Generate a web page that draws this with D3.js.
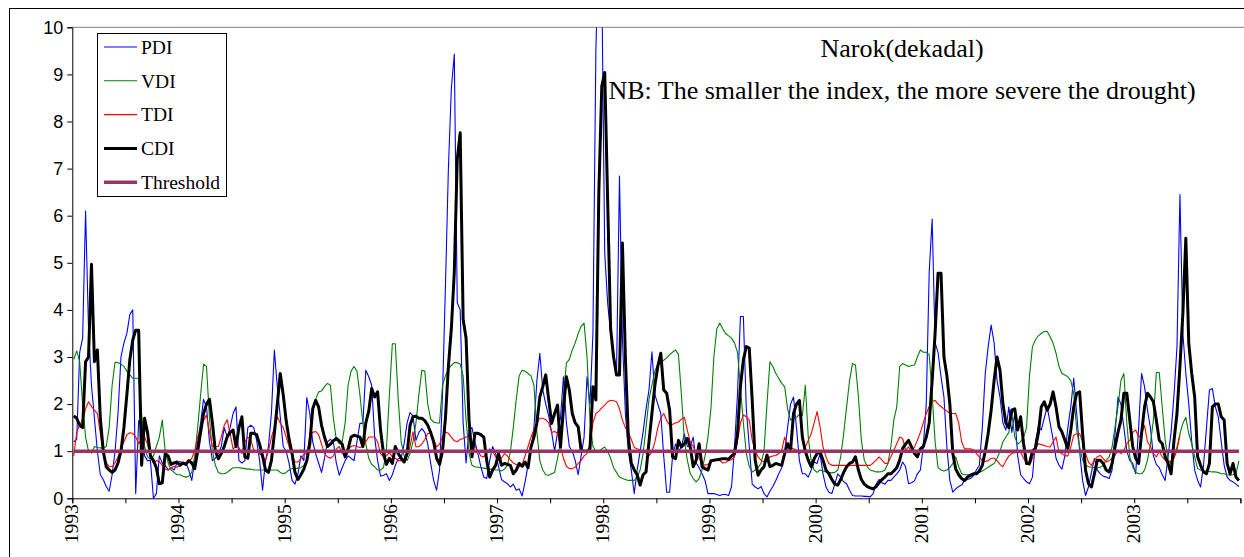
<!DOCTYPE html>
<html><head><meta charset="utf-8">
<script src="https://cdn.jsdelivr.net/npm/d3@7"></script>
<style>body{margin:0;background:#fff;overflow:hidden}svg{display:block}</style>
</head><body>
<svg id="chart" width="1244" height="557"></svg>
<script>
// ---- data (dekadal values, 36 per year, 1993-2003) ----
const years = [1993,1994,1995,1996,1997,1998,1999,2000,2001,2002,2003];
const yTicks = [0,1,2,3,4,5,6,7,8,9,10];
const titleLines = ["Narok(dekadal)", "NB: The smaller the index, the more severe the drought)"];
const seriesNames = ["PDI","VDI","TDI","CDI","Threshold"];
const thresholdValue = 1;

const pdi = [
 1.2,1.25,3.1,3.4,6.1,3.6,2.4,1.7,1.0,0.5,0.4,0.25,0.15,0.5,1.0,1.8,3.0,3.3,3.5,3.9,4.0,0.1,1.65,1.5,0.9,0.8,0.8,0.0,0.1,0.9,0.75,0.7,0.6,0.65,0.6,0.75,
 0.78,0.75,0.75,0.6,0.38,0.8,1.2,1.6,2.1,1.94,1.2,0.8,0.85,0.95,1.1,1.5,1.3,1.5,1.8,1.94,0.8,0.75,0.8,1.5,1.55,1.5,1.23,0.8,0.17,0.8,1.1,1.8,3.15,2.37,1.73,1.1,
 1.0,0.74,0.38,0.3,0.52,0.9,0.8,2.14,1.8,1.2,0.95,0.75,0.55,0.85,1.2,1.25,1.2,0.75,0.49,0.65,0.8,0.9,0.85,0.8,1.2,1.59,1.59,2.72,2.58,2.4,1.3,0.8,0.47,0.49,0.52,0.38,
 0.5,0.7,0.84,0.86,1.16,1.6,1.82,1.75,1.23,1.4,1.48,1.4,1.15,0.74,0.38,0.17,0.6,2.2,4.5,7.0,8.7,9.43,4.15,4.0,1.6,0.75,1.45,1.5,1.2,0.95,0.67,0.45,0.42,0.8,1.1,0.95,
 0.67,0.4,0.35,0.31,0.24,0.3,0.17,0.2,0.05,0.35,0.7,1.0,1.5,2.5,3.08,2.3,2.0,1.75,1.4,1.0,1.4,1.7,2.58,1.6,1.1,1.0,0.8,0.5,0.9,1.3,2.58,2.0,3.5,9.5,12,11,
 5.2,4.14,3.5,3.08,2.65,6.84,3.4,1.8,1.0,0.6,0.1,0.6,1.0,1.4,1.9,2.3,3.11,2.2,2.0,1.8,0.9,0.13,0.13,0.9,1.15,1.0,1.09,1.37,1.1,1.09,1.3,0.75,0.65,0.52,0.38,0.1,
 0.1,0.1,0.08,0.06,0.08,0.08,0.06,0.25,1.09,2.2,3.86,3.86,1.9,1.1,0.3,0.24,0.2,0.25,0.1,0.03,0.15,0.25,0.38,0.52,0.65,1.0,1.5,2.0,2.15,1.5,0.8,0.52,0.52,0.45,0.6,0.77,
 0.74,0.95,0.52,0.24,0.13,0.1,0.3,0.52,0.45,0.35,0.31,0.17,0.06,0.05,0.05,0.05,0.04,0.04,0.03,0.1,0.3,0.4,0.33,0.3,0.38,0.38,0.45,0.52,0.6,0.77,0.67,0.31,0.33,0.37,0.52,0.6,
 1.1,2.0,4.8,5.93,3.3,3.1,2.58,2.15,1.09,0.38,0.13,0.2,0.25,0.28,0.38,0.4,0.42,0.48,0.6,0.7,1.5,2.65,3.22,3.68,3.3,2.5,2.15,1.6,1.45,1.94,1.4,1.8,0.9,0.5,0.42,0.35,
 0.31,0.45,1.2,1.52,1.45,1.7,1.94,1.6,1.25,0.85,0.7,0.62,0.9,1.5,1.94,2.55,1.8,1.0,0.38,0.06,0.24,0.55,0.85,0.6,0.52,0.47,0.45,0.42,0.6,1.37,2.15,2.0,1.5,1.0,0.8,0.74,
 0.52,1.5,2.65,2.37,1.87,1.5,0.9,0.72,0.65,0.5,0.38,0.9,1.4,2.2,3.22,6.45,3.5,2.65,2.0,1.2,0.6,0.38,0.24,0.7,1.5,2.3,2.33,1.94,1.73,1.2,0.7,0.45,0.38,0.35,0.3,0.25
];

const vdi = [
 2.95,3.13,2.9,2.0,1.3,1.0,0.96,1.1,1.08,1.07,1.07,1.1,1.5,2.4,2.89,2.88,2.85,2.8,2.7,2.62,2.55,2.55,2.55,1.8,1.1,0.88,0.83,0.9,1.1,1.3,1.66,1.0,0.75,0.6,0.55,0.5,
 0.5,0.47,0.45,0.47,0.55,0.9,1.5,2.2,2.85,2.8,1.7,1.0,0.7,0.55,0.52,0.52,0.55,0.6,0.65,0.65,0.65,0.64,0.63,0.62,0.62,0.6,0.6,0.6,0.6,0.6,0.6,0.6,0.6,0.6,0.55,0.52,
 0.55,0.6,0.63,0.63,0.64,0.65,0.7,0.8,1.3,1.9,2.1,2.26,2.28,2.37,2.44,2.4,1.7,1.25,1.16,1.2,1.6,2.4,2.7,2.8,2.7,2.2,1.6,1.15,0.85,0.72,0.67,0.6,0.6,0.65,1.05,2.2,
 3.28,3.28,2.1,1.2,0.9,0.8,0.95,1.2,1.6,2.2,2.72,2.7,2.0,1.68,1.62,1.6,1.6,2.4,2.6,2.75,2.82,2.88,2.88,2.85,2.6,1.66,0.95,0.7,0.67,0.66,0.65,0.64,0.63,0.62,0.62,0.6,
 0.6,0.58,0.62,0.7,0.98,1.5,2.1,2.6,2.72,2.7,2.65,2.6,2.4,1.4,0.8,0.6,0.5,0.49,0.52,0.55,0.85,1.2,2.2,2.87,2.95,3.15,3.3,3.5,3.65,3.72,3.0,1.66,1.1,1.0,1.0,1.05,
 1.09,1.0,0.85,0.65,0.55,0.45,0.42,0.4,0.38,0.38,0.38,0.45,0.6,0.95,1.5,2.1,2.4,2.7,2.85,2.9,2.93,2.98,3.05,3.1,3.15,3.05,2.2,1.23,0.81,0.52,0.42,0.35,0.42,0.6,0.9,1.3,
 1.9,3.0,3.6,3.72,3.6,3.5,3.45,3.4,3.3,3.1,2.37,1.6,0.95,0.67,0.56,0.6,0.65,0.75,1.0,2.0,2.9,2.8,2.65,2.55,2.44,2.37,1.9,1.66,1.7,1.72,1.78,1.75,2.4,1.3,0.8,0.6,
 0.55,0.6,0.58,0.56,0.55,0.54,0.55,0.6,0.88,1.37,1.94,2.5,2.86,2.83,2.16,1.23,0.81,0.67,0.6,0.58,0.56,0.56,0.57,0.6,0.74,1.09,1.66,1.94,2.8,2.86,2.83,2.8,2.82,2.83,3.0,3.15,
 3.1,3.1,3.05,2.2,1.2,0.65,0.6,0.58,0.6,0.65,0.74,0.88,0.67,0.52,0.5,0.5,0.5,0.52,0.53,0.55,0.58,0.62,0.66,0.7,0.74,0.85,1.0,1.2,1.3,1.4,1.8,1.3,1.15,1.2,1.3,1.5,
 2.6,3.22,3.36,3.45,3.5,3.54,3.54,3.43,3.29,3.08,2.8,2.65,2.62,2.58,2.5,2.23,1.45,1.09,0.81,0.7,0.67,0.66,0.65,0.65,0.66,0.7,0.81,0.88,1.09,1.52,1.94,2.5,2.65,1.6,0.88,0.67,
 0.55,0.52,0.52,0.6,0.81,1.16,1.66,2.67,2.67,1.94,1.23,0.81,0.74,0.9,1.09,1.37,1.59,1.72,1.37,1.16,0.88,0.63,0.6,0.58,0.58,0.57,0.56,0.56,0.55,0.52,0.52,0.5,0.49,0.5,0.52,0.8
];

const tdi = [
 0.9,1.4,1.55,1.66,1.9,2.05,1.95,1.87,1.8,1.38,0.95,0.75,0.68,0.67,0.75,0.88,1.05,1.2,1.35,1.39,1.38,1.3,1.16,1.25,1.3,1.15,0.9,0.75,0.8,0.78,0.7,0.62,0.6,0.65,0.68,0.66,
 0.7,0.72,0.75,0.78,0.85,1.0,1.3,1.5,1.65,1.77,1.4,1.1,1.1,1.1,1.3,1.55,1.67,1.38,1.05,1.1,1.08,0.95,1.2,1.3,1.25,1.02,1.0,0.95,0.88,0.8,1.0,1.3,1.5,1.73,1.6,1.5,
 1.3,1.1,0.9,0.77,0.77,0.85,0.93,0.95,1.3,1.4,1.42,1.35,1.15,0.95,0.88,0.85,0.9,1.05,1.1,0.95,0.9,1.05,1.1,1.12,1.1,1.08,1.1,1.2,1.3,1.3,1.3,1.2,0.95,0.88,0.9,0.97,
 0.88,0.85,0.8,0.8,0.82,0.9,1.1,1.41,1.09,1.1,1.15,1.25,1.38,1.38,1.25,1.09,1.15,1.3,1.41,1.38,1.3,1.22,1.2,1.25,1.27,1.3,1.3,1.2,1.1,1.0,0.9,0.88,0.95,1.05,1.0,0.88,
 0.8,0.85,0.95,0.9,0.82,0.75,0.72,0.67,0.72,0.9,1.1,1.3,1.45,1.6,1.7,1.7,1.67,1.6,1.4,1.42,1.38,1.1,0.85,0.68,0.63,0.63,0.66,0.74,0.8,0.9,0.95,1.15,1.6,1.8,1.85,1.92,
 1.98,2.05,2.08,2.07,2.05,1.9,1.66,1.5,1.4,1.25,1.08,1.05,1.03,1.0,0.96,0.9,0.98,1.2,1.5,1.7,1.8,1.65,1.55,1.57,1.6,1.62,1.68,1.72,1.45,1.2,1.1,0.95,0.85,0.75,0.7,0.72,
 0.78,0.8,0.82,0.8,0.75,0.76,0.8,0.82,0.88,1.2,1.6,1.77,1.73,1.66,1.23,1.02,0.88,0.81,0.77,0.8,0.88,0.9,0.91,0.95,1.02,1.3,1.12,1.08,1.05,1.02,0.95,0.99,1.09,1.23,1.37,1.6,
 1.84,1.52,1.09,0.88,0.74,0.7,0.7,0.7,0.7,0.7,0.7,0.7,0.7,0.7,0.7,0.7,0.7,0.7,0.7,0.75,0.81,0.88,0.81,0.74,0.74,0.88,1.02,1.16,1.3,1.27,1.02,1.09,0.99,1.09,1.23,1.4,
 1.6,1.8,1.95,2.05,2.08,2.0,1.95,1.9,1.85,1.8,1.8,1.8,1.6,1.2,1.05,1.05,1.05,1.03,0.95,0.88,0.8,0.78,0.8,0.85,0.85,0.8,0.72,0.67,0.8,0.9,0.95,0.97,0.97,0.98,0.85,0.75,
 0.7,0.85,1.05,1.16,1.14,1.12,1.1,1.09,1.2,1.3,0.98,0.95,0.9,0.9,1.09,1.34,1.37,1.37,1.2,0.95,0.77,0.7,0.81,0.88,0.91,0.84,0.77,0.8,0.85,0.91,1.02,0.95,1.02,1.16,1.23,1.4,
 1.45,1.3,1.37,1.55,1.2,1.1,0.95,0.88,0.99,0.88,0.81,0.77,0.79,0.85,1.02,1.34
];

const cdi = [
 1.75,1.7,1.55,1.5,2.9,3.0,4.97,2.9,3.15,1.7,1.0,0.67,0.6,0.55,0.6,0.75,1.0,1.5,2.2,2.94,3.36,3.57,3.57,0.7,1.7,1.4,0.9,0.8,0.65,0.31,0.33,0.95,0.9,0.72,0.75,0.77,
 0.7,0.75,0.72,0.8,0.75,0.63,1.0,1.4,1.8,2.0,2.1,1.6,1.0,0.84,0.95,1.1,1.3,1.4,1.45,1.1,1.5,1.73,0.88,0.85,1.38,1.38,1.35,1.15,0.9,0.6,0.55,0.8,1.38,2.0,2.65,2.2,
 1.65,1.25,0.95,0.55,0.4,0.5,0.62,0.8,1.15,1.9,2.08,1.94,1.55,1.3,1.1,1.15,1.22,1.27,1.22,1.15,0.88,1.05,1.3,1.34,1.32,1.3,1.1,1.6,1.85,2.33,2.15,2.26,1.45,0.95,0.72,0.85,
 0.74,1.1,0.95,0.85,0.77,0.95,1.55,1.73,1.74,1.7,1.7,1.65,1.55,1.4,1.2,0.85,0.72,1.0,1.7,2.8,3.6,4.8,7.2,7.76,3.8,3.4,1.66,0.88,1.38,1.38,1.35,1.3,0.8,0.45,0.6,0.7,
 0.95,0.7,0.74,0.72,0.7,0.52,0.6,0.74,0.68,0.77,0.65,1.09,1.3,1.6,2.16,2.37,2.62,2.1,1.59,1.8,1.98,1.09,1.9,2.58,2.3,1.8,1.6,1.52,1.02,1.0,1.0,1.05,2.37,2.09,6.5,8.75,
 9.04,6.3,3.6,3.0,2.62,2.62,5.42,3.0,1.3,0.75,0.6,0.5,0.28,0.5,0.56,1.2,1.8,2.4,2.8,3.08,2.3,2.23,1.87,0.88,0.84,1.23,1.09,1.16,1.27,1.09,0.67,0.81,1.16,0.67,0.63,0.6,
 0.8,0.81,0.82,0.83,0.84,0.84,0.83,0.9,0.95,1.37,2.37,2.94,3.22,3.19,2.08,0.81,0.49,0.6,0.67,0.92,0.67,0.7,0.74,0.72,0.7,0.95,1.16,1.02,1.8,2.0,2.08,1.3,1.0,0.81,0.67,0.84,
 0.95,0.99,0.81,0.6,0.52,0.4,0.3,0.28,0.4,0.55,0.67,0.74,0.77,0.88,0.6,0.4,0.3,0.25,0.22,0.2,0.25,0.33,0.4,0.45,0.52,0.52,0.58,0.65,0.81,1.06,1.15,1.23,1.09,0.95,0.88,1.05,
 1.1,1.3,1.6,2.5,3.5,4.78,4.78,3.0,2.6,2.0,0.95,0.62,0.5,0.42,0.38,0.45,0.49,0.52,0.52,0.58,0.7,1.0,1.38,1.87,2.5,3.0,2.72,2.0,1.6,1.5,1.87,1.9,1.45,1.73,1.16,0.74,
 0.74,1.0,1.06,1.38,1.94,2.05,1.87,2.0,2.26,1.94,1.52,1.41,1.23,1.06,1.45,1.94,2.23,2.26,1.38,0.6,0.31,0.24,0.52,0.81,0.81,0.74,0.6,0.56,0.74,1.09,1.4,1.66,2.23,2.23,1.66,1.1,
 0.85,0.74,1.38,1.94,2.23,2.15,2.05,1.66,1.23,1.16,0.88,0.74,0.52,1.23,1.8,2.8,3.93,5.52,3.29,2.65,2.15,0.88,0.7,0.56,0.52,0.74,1.94,2.0,2.0,1.73,1.66,0.74,0.52,0.74,0.45,0.38
];

const nDek = years.length * 36;
const thresholdSeries = d3.range(nDek).map(() => thresholdValue);

// ---- layout ----
const svg = d3.select("#chart");
const plot = {left: 72.3, right: 1240.4, top: 27.3, bottom: 498.3};

const x = d3.scaleLinear().domain([0, nDek]).range([plot.left, plot.right]);
const y = d3.scaleLinear().domain([0, 10]).range([plot.bottom, plot.top]);

svg.append("rect").attr("width",1244).attr("height",557).attr("fill","#fff");
// outer chart frame
svg.append("rect").attr("x",9.5).attr("y",8.5).attr("width",1400).attr("height",700)
  .attr("fill","none").attr("stroke","#000").attr("stroke-width",1);

// plot top border (grey)
svg.append("line").attr("x1",plot.left).attr("x2",1244).attr("y1",plot.top).attr("y2",plot.top)
  .attr("stroke","#808080").attr("stroke-width",1);

svg.append("defs").append("clipPath").attr("id","clip")
  .append("rect").attr("x",plot.left).attr("y",plot.top).attr("width",plot.right-plot.left+4).attr("height",plot.bottom-plot.top);

const line = d3.line()
  .defined(d => d != null)
  .x((d,i) => x(i + 0.5))
  .y(d => y(d));

const styles = {
  PDI: {data: pdi, color: "#0000FF", width: 1.1},
  VDI: {data: vdi, color: "#008000", width: 1.1},
  TDI: {data: tdi, color: "#FF0000", width: 1.1},
  CDI: {data: cdi, color: "#000000", width: 3},
  Threshold: {data: thresholdSeries, color: "#993366", width: 3.5}
};

const g = svg.append("g").attr("clip-path","url(#clip)");
seriesNames.forEach(name => {
  const s = styles[name];
  g.append("path").datum(s.data)
    .attr("fill","none").attr("stroke",s.color).attr("stroke-width",s.width)
    .attr("stroke-linejoin","round")
    .attr("d", line);
});

// ---- axes ----
const yAxis = d3.axisLeft(y).tickValues(yTicks).tickSize(5).tickPadding(4).tickFormat(d3.format("d"));
const ya = svg.append("g").attr("transform",`translate(${plot.left},0)`).call(yAxis);
ya.select(".domain").attr("stroke","#000");
ya.selectAll("text").attr("font-family","Liberation Sans, Arial, sans-serif").attr("font-size",18).attr("fill","#000");

const xTickVals = d3.range(0, nDek + 1, 18);
const xAxis = d3.axisBottom(x).tickValues(xTickVals).tickSize(5).tickFormat(() => "");
const xa = svg.append("g").attr("transform",`translate(0,${plot.bottom})`).call(xAxis);
xa.select(".domain").attr("stroke","#000");

svg.append("g").selectAll("text").data(years).join("text")
  .attr("transform",(d,i) => `translate(${x(i*36)+6},${plot.bottom+6}) rotate(-90)`)
  .attr("text-anchor","end")
  .attr("font-family","Liberation Serif, Times New Roman, serif")
  .attr("font-size",19.5)
  .text(d => d);

// ---- title ----
svg.append("g").selectAll("text").data(titleLines).join("text")
  .attr("x",902).attr("y",(d,i) => 57 + i*42)
  .attr("text-anchor","middle")
  .attr("font-family","Liberation Serif, Times New Roman, serif")
  .attr("font-size",26)
  .text(d => d);

// ---- legend ----
const lg = svg.append("g");
lg.append("rect").attr("x",97.5).attr("y",33.5).attr("width",129).attr("height",163)
  .attr("fill","#fff").attr("stroke","#000").attr("stroke-width",1);
seriesNames.forEach((name,i) => {
  const s = styles[name];
  const cy = 47 + i*33.8;
  lg.append("line").attr("x1",104).attr("x2",137).attr("y1",cy).attr("y2",cy)
    .attr("stroke",s.color).attr("stroke-width",s.width);
  lg.append("text").attr("x",141).attr("y",cy).attr("dy","0.35em")
    .attr("font-family","Liberation Serif, Times New Roman, serif").attr("font-size",19.5)
    .text(name);
});
</script>
</body></html>
